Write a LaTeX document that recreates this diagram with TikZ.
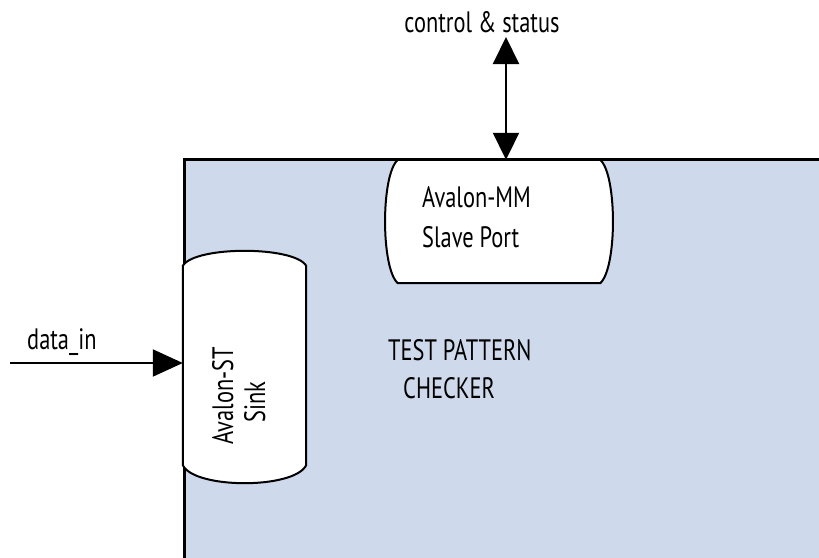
\documentclass[tikz,border=0pt]{standalone}
\usepackage{fontspec}
\setmainfont{PT Sans}[FakeStretch=0.76]
\usetikzlibrary{arrows.meta}
\definecolor{blockblue}{RGB}{206,217,236}
\tikzset{
  blockline/.style={draw=black, line width=3pt, fill=blockblue},
  portline/.style={draw=black, line width=2pt, fill=white},
  conn/.style={line width=2pt, -{Triangle[length=30pt,width=27pt]}},
  biconn/.style={line width=2pt, {Triangle[length=27pt,width=26pt]}-{Triangle[length=27pt,width=26pt]}},
  lbl/.style={font=\fontsize{29.5}{34}\selectfont, inner sep=0pt},
  portbox/.style={inner sep=0pt, draw=none}
}
\begin{document}
\begin{tikzpicture}[x=1pt,y=-1pt]
\useasboundingbox (0,0) rectangle (819,557);
\clip (0,0) rectangle (819,557);
% main block
\node[portbox, minimum width=660pt, minimum height=420pt, anchor=north west] (blk) at (184,159) {};
\draw[blockline] (blk.north west) rectangle (blk.south east);
% Avalon-MM port
\node[portbox, minimum width=202pt, minimum height=123pt] (mm) at (499,221.5) {};
\draw[portline] (mm.north west) -- (mm.north east)
  .. controls ++(17,15) and ++(17,-15) .. (mm.south east)
  -- (mm.south west)
  .. controls ++(-17,-15) and ++(-17,15) .. cycle;
% Avalon-ST port
\node[portbox, minimum width=123pt, minimum height=199pt] (st) at (244.5,365.5) {};
\draw[portline] (st.north west)
  .. controls ++(12,-20) and ++(-12,-20) .. (st.north east)
  -- (st.south east)
  .. controls ++(-12,24) and ++(12,24) .. (st.south west)
  -- cycle;
% texts
\node[lbl, anchor=base west] (mmt1) at (422,207) {Avalon-MM};
\node[lbl, anchor=base west] (mmt2) at (422,247) {Slave Port};
\node[lbl, anchor=base west] (tp1) at (388,360) {TEST PATTERN};
\node[lbl, anchor=base west] (tp2) at (403,398) {CHECKER};
\node[lbl, anchor=base, rotate=90] (stt1) at (233,396) {Avalon-ST};
\node[lbl, anchor=base, rotate=90] (stt2) at (265,402) {Sink};
\node[lbl, anchor=base west] (din) at (27,349) {data\_in};
\node[lbl, anchor=base] (cs) at (482,32) {control \& status};
% connectors
\coordinate (dinstart) at (10,363);
\draw[conn] (dinstart) -- (dinstart -| st.west);
\coordinate (cstop) at (506,37);
\draw[biconn] (cstop) -- (cstop |- mm.north);
\end{tikzpicture}
\end{document}
